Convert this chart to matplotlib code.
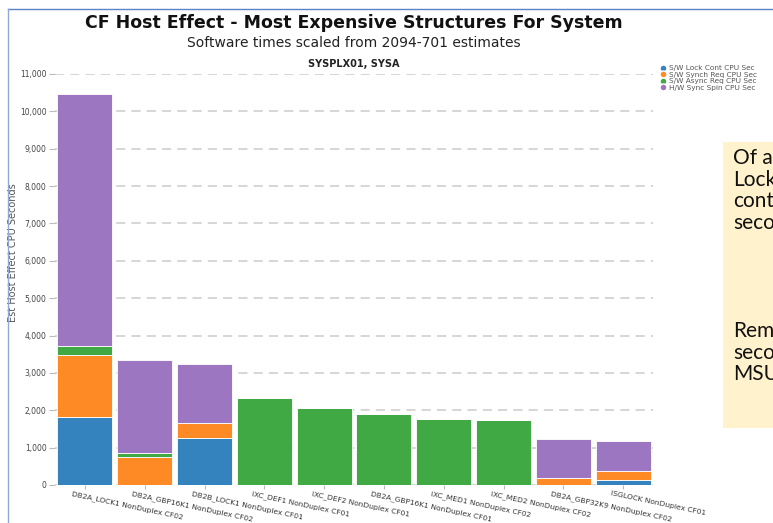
import numpy as np
import matplotlib.pyplot as plt
import matplotlib.transforms as mtransforms
from matplotlib.lines import Line2D
from matplotlib.patches import Rectangle

# Strukturen (x-Achse)
structures = ['DB2A_LOCK1 NonDuplex CF02', 'DB2A_GBP16K1 NonDuplex CF02',
              'DB2B_LOCK1 NonDuplex CF01', 'IXC_DEF1 NonDuplex CF01',
              'IXC_DEF2 NonDuplex CF01', 'DB2A_GBP16K1 NonDuplex CF01',
              'IXC_MED1 NonDuplex CF02', 'IXC_MED2 NonDuplex CF02',
              'DB2A_GBP32K9 NonDuplex CF02', 'ISGLOCK NonDuplex CF01']

# CPU-Sekunden je Komponente (aus dem Bild geschaetzt)
lock_cont = [1830, 0, 1250, 0, 0, 0, 0, 0, 0, 135]
synch_req = [1655, 760, 415, 0, 0, 0, 0, 0, 175, 240]
async_req = [240, 95, 0, 2320, 2060, 1900, 1775, 1750, 20, 0]
sync_spin = [6730, 2495, 1580, 0, 0, 0, 0, 0, 1035, 800]

series_names = ['S/W Lock Cont CPU Sec', 'S/W Synch Req CPU Sec',
                'S/W Async Req CPU Sec', 'H/W Sync Spin CPU Sec']
colors = ['#3583be', '#fd8a24', '#41a943', '#9d76c1']

fig = plt.figure(figsize=(7.73, 5.23), dpi=100)
W, H = 773, 523
ax = fig.add_axes([55 / W, 38 / H, 598 / W, 411 / H])

x = np.arange(len(structures))
bottom = np.zeros(len(structures))
for vals, name, c in zip([lock_cont, synch_req, async_req, sync_spin], series_names, colors):
    ax.bar(x, vals, width=0.92, bottom=bottom, color=c, edgecolor='white',
           linewidth=0.6, label=name, zorder=2)
    bottom += np.array(vals)

ax.set_xlim(-0.5, len(structures) - 0.5)
ax.set_ylim(0, 11000)
ax.set_yticks(range(0, 11001, 1000))
ax.set_yticklabels([f'{v:,}' for v in range(0, 11001, 1000)])
ax.grid(axis='y', color='#cccccc', linestyle=(0, (6, 4)), linewidth=1.1, zorder=0)
for s in ax.spines.values():
    s.set_visible(False)
ax.tick_params(axis='y', length=4, color='#bbbbbb', labelsize=5.5, labelcolor='#444444', pad=2)
ax.tick_params(axis='x', length=3, color='#bbbbbb', labelsize=5.4, labelcolor='#333333', pad=1)

ax.set_xticks(x)
ax.set_xticklabels(structures, rotation=-12, ha='left', va='top', rotation_mode='anchor')
offset = mtransforms.ScaledTranslation(-12 / 100, 0, fig.dpi_scale_trans)
for lbl in ax.get_xticklabels():
    lbl.set_transform(lbl.get_transform() + offset)

ax.set_ylabel('Est Host Effect CPU Seconds', fontsize=7, color='#555555')
ax.yaxis.set_label_coords(-0.062, 0.565)

# Titel
cx = (55 + 299) / W
fig.text(cx, 1 - 23 / H, 'CF Host Effect - Most Expensive Structures For System',
         ha='center', va='center', fontsize=12.5, fontweight='bold', color='#111111')
fig.text(cx, 1 - 43 / H, 'Software times scaled from 2094-701 estimates',
         ha='center', va='center', fontsize=10, color='#222222')
fig.text(cx, 1 - 64 / H, 'SYSPLX01, SYSA', ha='center', va='center',
         fontsize=7, fontweight='bold', color='#222222')

# Legende
handles = [Line2D([0], [0], marker='o', color='w', markerfacecolor=c, markersize=5)
           for c in colors]
fig.legend(handles, series_names, loc='upper left', bbox_to_anchor=(659 / W, 1 - 65 / H),
           frameon=False, fontsize=5.3, labelcolor='#555555', handletextpad=0.1,
           labelspacing=0.05, handlelength=1.2, borderpad=0, borderaxespad=0)

# Rahmen der Folie
fig.add_artist(Line2D([8 / W, 1], [1 - 9 / H, 1 - 9 / H], color='#5b83c9', linewidth=1))
fig.add_artist(Line2D([8 / W, 8 / W], [0, 1 - 9 / H], color='#8fa9dc', linewidth=1))

# Textkasten rechts (abgeschnitten wie im Original)
fig.add_artist(Rectangle((723 / W, 1 - 428 / H), 60 / W, 286 / H, facecolor='#fff2cc',
                         edgecolor='none', transform=fig.transFigure))
fig.text(733 / W, 1 - 148 / H, 'Of all the\nLock\ncontention\nseconds',
         ha='left', va='top', fontsize=15, family='Lato', color='#111111',
         linespacing=1.1)
fig.text(733 / W, 1 - 321 / H, 'Remaining\nseconds\nMSU',
         ha='left', va='top', fontsize=15, family='Lato', color='#111111',
         linespacing=1.1)

plt.savefig('out.png', dpi=100)
